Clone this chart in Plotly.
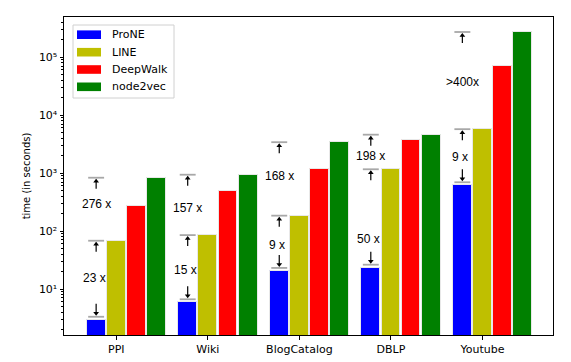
import math
import plotly.graph_objects as go

# ---------------- data ----------------
datasets = ["PPI", "Wiki", "BlogCatalog", "DBLP", "Youtube"]
methods = ["ProNE", "LINE", "DeepWalk", "node2vec"]
prone = [2.95, 5.9, 20.5, 23.3, 615]
line_ = [68, 85, 184, 1160, 5700]
deepwalk = [270, 495, 1170, 3700, 69000]
node2vec = [830, 935, 3400, 4580, 270000]
speedup_low = ["23 x", "15 x", "9 x", "50 x", "9 x"]      # LINE vs ProNE
speedup_high = ["276 x", "157 x", "168 x", "198 x", ">400x"]  # node2vec vs ProNE
y_tick_vals = [10, 100, 1000, 10000, 100000]
y_tick_text = ["10¹", "10²", "10³", "10⁴", "10⁵"]

series = [prone, line_, deepwalk, node2vec]
colors = ["#0000ff", "#bfbf00", "#ff0000", "#008000"]
offsets = [-0.22, 0.0, 0.22, 0.44]
bar_w = 0.205

# page body has an 8px margin: figure is placed at (8, 8) in the window
OFF = 8
WIN_W, WIN_H = 571, 362
W, H = WIN_W - OFF, WIN_H - OFF
PL, PR, PT, PB = 64, 553, 17, 335   # plot area in window pixels
L, R, T, B = PL - OFF, WIN_W - PR, PT - OFF, WIN_H - PB
PW, PH = PR - PL, PB - PT
YR = [0.207, 5.69]
ppd = PH / (YR[1] - YR[0])  # pixels per decade


def pshift(v, pix):
    """value moved by pix pixels upward on the log axis"""
    return v * 10 ** (pix / ppd)


fig = go.Figure()
idx = list(range(len(datasets)))
for s, vals in enumerate(series):
    fig.add_trace(go.Bar(
        x=[i + offsets[s] for i in idx], y=vals, width=bar_w,
        marker=dict(color=colors[s], line=dict(color="#e8e8e8", width=1)),
        name=methods[s], showlegend=False))

# caps (gray horizontal lines) + arrows
cx, cy = [], []
sx, sy = [], []
ux, uy, dx, dy = [], [], [], []
half = 0.087
for i in idx:
    xc = i + offsets[0]
    vb = pshift(prone[i], 3)
    cx += [xc - half, xc + half, None]
    cy += [vb, vb, None]
    sx += [xc, xc, None]
    sy += [pshift(vb, 13), pshift(vb, 3), None]
    dx.append(xc)
    dy.append(pshift(vb, 3.5))
    for v in (line_[i], node2vec[i]):
        cx += [xc - half, xc + half, None]
        cy += [v, v, None]
        sx += [xc, xc, None]
        sy += [pshift(v, -11), pshift(v, -2), None]
        ux.append(xc)
        uy.append(pshift(v, -3.5))

fig.add_trace(go.Scatter(x=cx, y=cy, mode="lines",
                         line=dict(color="#a8a8a8", width=1.8),
                         showlegend=False, hoverinfo="skip"))
fig.add_trace(go.Scatter(x=sx, y=sy, mode="lines",
                         line=dict(color="black", width=1.2),
                         showlegend=False, hoverinfo="skip"))
fig.add_trace(go.Scatter(x=ux, y=uy, mode="markers",
                         marker=dict(symbol="triangle-up", size=5, color="black", line=dict(width=0)),
                         showlegend=False, hoverinfo="skip"))
fig.add_trace(go.Scatter(x=dx, y=dy, mode="markers",
                         marker=dict(symbol="triangle-down", size=5, color="black", line=dict(width=0)),
                         showlegend=False, hoverinfo="skip"))

annotations = []
low_shift = [2, -1, -2, -21, 0]
high_shift = [5, -3, 3, -4, -1]
for i in idx:
    xc = i + offsets[0]
    ylow = (math.log10(prone[i]) + math.log10(line_[i])) / 2
    yhigh = (math.log10(line_[i]) + math.log10(node2vec[i])) / 2
    annotations.append(dict(x=xc, y=ylow, xref="x", yref="y", text=speedup_low[i],
                            showarrow=False, yshift=low_shift[i], xshift=-2,
                            font=dict(family="Liberation Sans", size=12, color="black")))
    annotations.append(dict(x=xc, y=yhigh, xref="x", yref="y", text=speedup_high[i],
                            showarrow=False, yshift=high_shift[i], xshift=0,
                            font=dict(family="Liberation Sans", size=12, color="black")))


# manual legend (wide patches like the reference), window-pixel positions
def px(xp):
    return (xp - PL) / PW


def py(yp):
    return 1 - (yp - PT) / PH


shapes = [dict(type="rect", xref="paper", yref="paper",
               x0=px(73), x1=px(174), y0=py(98), y1=py(25),
               line=dict(color="#d0d0d0", width=1), fillcolor="rgba(255,255,255,0.85)",
               layer="above")]
row_y = [34.7, 52.2, 69.5, 86.8]
for s in range(4):
    shapes.append(dict(type="rect", xref="paper", yref="paper",
                       x0=px(77), x1=px(101), y0=py(row_y[s] + 4.3), y1=py(row_y[s] - 4.3),
                       line=dict(width=0), fillcolor=colors[s], layer="above"))
    annotations.append(dict(x=px(110), y=py(row_y[s]), xref="paper", yref="paper",
                            text=methods[s], showarrow=False, xanchor="left", yanchor="middle",
                            font=dict(family="DejaVu Sans", size=11, color="black")))

minor_vals = [m * 10 ** k for k in range(0, 6) for m in range(2, 10) if 1.6 <= m * 10 ** k <= 4.9e5]

fig.update_layout(
    width=W, height=H,
    margin=dict(l=L, r=R, t=T, b=B, autoexpand=False),
    paper_bgcolor="white", plot_bgcolor="white",
    bargap=0, barmode="overlay",
    shapes=shapes, annotations=annotations,
    font=dict(family="DejaVu Sans", size=10, color="black"),
    xaxis=dict(range=[-0.571, 4.770], tickmode="array", tickvals=idx, ticktext=datasets,
               ticks="outside", ticklen=3.5, tickwidth=1, tickcolor="black",
               showline=True, linecolor="black", linewidth=1, mirror=True, automargin=False,
               showgrid=False, zeroline=False, tickfont=dict(size=11)),
    yaxis=dict(type="log", range=YR, tickmode="array",
               tickvals=y_tick_vals, ticktext=y_tick_text,
               ticks="outside", ticklen=3.5, tickwidth=1, tickcolor="black",
               minor=dict(tickmode="array", tickvals=minor_vals, ticks="outside",
                          ticklen=2, tickwidth=0.8, tickcolor="black", showgrid=False),
               showline=True, linecolor="black", linewidth=1, mirror=True, automargin=False,
               showgrid=False, zeroline=False, tickfont=dict(size=11),
               title=dict(text="time (in seconds)", font=dict(size=10), standoff=6)),
)

fig.write_html("out.html")
